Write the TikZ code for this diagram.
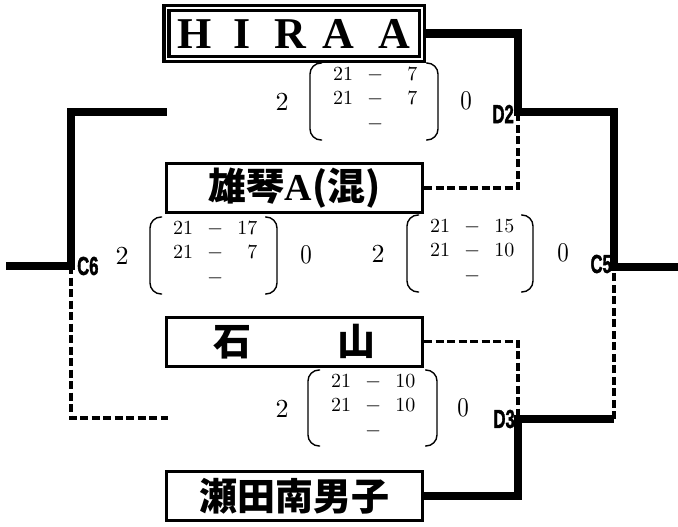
\documentclass[tikz,border=0pt]{standalone}
\usepackage{fontspec}
\newfontfamily\cjkfont{Noto Sans CJK JP}
\newfontfamily\romanbold{Liberation Serif}
\newfontfamily\labelfont{Liberation Sans}[BoldFeatures={FakeBold=2}]
\newfontfamily\numfont{lmroman10-regular}[Extension=.otf]
\usetikzlibrary{positioning}
\tikzset{
team/.style={ % box of a team
draw, line width=3pt,
minimum width=256pt, minimum height=49pt, inner sep=0pt,
font=\cjkfont\bfseries\fontsize{38}{38}\selectfont},
seed/.style={team, double, line width=3.3pt, double distance=1.7pt,
minimum width=255.4pt, minimum height=50.7pt,
font=\romanbold\bfseries\fontsize{44}{44}\selectfont},
games/.style={inner sep=0pt, anchor=west, font=\numfont\fontsize{20}{24.5}\selectfont},
won/.style={inner sep=0pt, font=\numfont\fontsize{26}{26}\selectfont},
lost/.style={inner sep=0pt, font=\numfont\fontsize{27}{27}\selectfont},
paren/.style={line width=1.4pt, rounded corners=11pt},
wonline/.style={line width=8.5pt},
lostline/.style={line width=3.3pt, dash pattern=on 8pt off 3.5pt},
rnd/.style={inner sep=0pt, font=\labelfont\bfseries\fontsize{26}{26}\selectfont}}

\begin{document}
\begin{tikzpicture}[x=1pt, y=-1pt]
	\useasboundingbox (0,0) rectangle (678,527);
	% teams
	\node[seed] (hira) at (294.2,33.5) {\makebox[48pt]{H}\makebox[48pt]{I}\makebox[48pt]{R}\makebox[48pt]{A}\hspace{8pt}\makebox[48pt]{A}};
	\node[team] (ogoto) at (294.5,188) {雄琴{\romanbold A}(混)};
	\node[team] (ishi) at (294.5,341.5) {石\hspace{86pt}山};
	\node[team] (seta) at (294.5,496) {瀬田南男子};
	% junctions
	\coordinate (d2pt) at (518,112);
	\coordinate (d3pt) at (518,419);
	\coordinate (c5pt) at (614,267);
	\coordinate (c6pt) at (71,266);
	\coordinate (d3c5) at (614,419);
	\coordinate (c5end) at (678,267);
	\coordinate (c6end) at (6,266);
	\coordinate (c6top) at (167,112);
	\coordinate (c6bot) at (168,418);
	% losers
	\draw[lostline] (ogoto.east) -| (d2pt);
	\draw[lostline] (ishi.east) -| (d3pt);
	\draw[lostline] (d3c5) -- (c5pt);
	\draw[lostline] (c6pt) |- (c6bot);
	% winners
	\draw[wonline] (hira.east) -| (d2pt) -| (c5pt) -- (c5end);
	\draw[wonline] (seta.east) -| (d3pt) -- (d3c5);
	\draw[wonline] (c6end) -- (c6pt) |- (c6top);
	% match labels
	\node[rnd, left=4pt of d2pt, yshift=-2pt] (d2lab) {\scalebox{.64}[1]{D2}};
	\node[rnd, left=3pt of d3pt] (d3lab) {\scalebox{.64}[1]{D3}};
	\node[rnd, left=2pt of c5pt, yshift=3pt] (c5lab) {\scalebox{.64}[1]{C5}};
	\node[rnd, right=6pt of c6pt] (c6lab) {\scalebox{.64}[1]{C6}};
	% scores D2
	\node[won] (d2won) at (282,102) {2};
	\node[games] (d2games) at (333,100) {\begin{tabular}{@{}c@{\hspace{14pt}}c@{\hspace{14pt}}r@{}}21 & $-$ & \phantom{1}7\\21 & $-$ & \phantom{1}7\\ & $-$ & \end{tabular}};
	\node[lost] (d2lost) at (466,101) {\scalebox{.85}[1]{0}};
	\draw[paren] (322,63) -- (310,63) -- (310,140) -- (322,140);
	\draw[paren] (426,63) -- (438,63) -- (438,140) -- (426,140);
	% scores C6
	\node[won] (c6won) at (122,256) {2};
	\node[games] (c6games) at (173,254) {\begin{tabular}{@{}c@{\hspace{14pt}}c@{\hspace{14pt}}r@{}}21 & $-$ & 17\\21 & $-$ & \phantom{1}7\\ & $-$ & \end{tabular}};
	\node[lost] (c6lost) at (306,255) {\scalebox{.85}[1]{0}};
	\draw[paren] (162,217) -- (150,217) -- (150,294) -- (162,294);
	\draw[paren] (265,217) -- (277,217) -- (277,294) -- (265,294);
	% scores C5
	\node[won] (c5won) at (378,254) {2};
	\node[games] (c5games) at (430,252) {\begin{tabular}{@{}c@{\hspace{14pt}}c@{\hspace{14pt}}r@{}}21 & $-$ & 15\\21 & $-$ & 10\\ & $-$ & \end{tabular}};
	\node[lost] (c5lost) at (563,253) {\scalebox{.85}[1]{0}};
	\draw[paren] (419,215) -- (407,215) -- (407,292) -- (419,292);
	\draw[paren] (521,215) -- (533,215) -- (533,292) -- (521,292);
	% scores D3
	\node[won] (d3won) at (282,409) {2};
	\node[games] (d3games) at (331,407) {\begin{tabular}{@{}c@{\hspace{14pt}}c@{\hspace{14pt}}r@{}}21 & $-$ & 10\\21 & $-$ & 10\\ & $-$ & \end{tabular}};
	\node[lost] (d3lost) at (463,408) {\scalebox{.85}[1]{0}};
	\draw[paren] (320,370) -- (308,370) -- (308,446) -- (320,446);
	\draw[paren] (425,370) -- (437,370) -- (437,446) -- (425,446);
\end{tikzpicture}
\end{document}
